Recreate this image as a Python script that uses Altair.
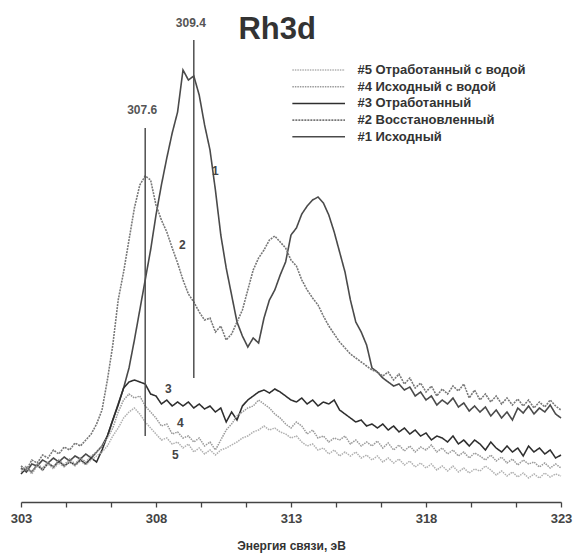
import altair as alt
import pandas as pd

# Binding energy grid, eV (0.2 eV step)
energy = [round(303 + 0.2 * i, 1) for i in range(101)]

# Rh3d spectra, intensity in arbitrary units
s1 = [34, 30, 38, 36, 42, 39, 44, 40, 45, 41, 46, 43, 48, 44, 50,
      56, 66, 82, 98, 114, 134, 162, 192, 222, 252, 287, 317, 344, 369, 390,
      432, 422, 426, 407, 377, 352, 312, 267, 234, 207, 180, 166, 155, 164, 159,
      184, 202, 212, 227, 240, 267, 274, 288, 296, 302, 305, 299, 287, 270, 250,
      230, 202, 180, 170, 157, 134, 130, 124, 120, 116, 118, 112, 115, 106, 110,
      102, 106, 97, 102, 98, 104, 95, 99, 91, 96, 90, 95, 86, 92, 84,
      90, 82, 94, 89, 96, 88, 94, 90, 97, 88, 84]
s2 = [36, 32, 42, 39, 47, 44, 52, 48, 55, 52, 59, 56, 62, 68, 78,
      92, 122, 157, 202, 230, 262, 294, 317, 326, 322, 297, 282, 270, 254, 239,
      222, 208, 200, 190, 182, 184, 170, 176, 162, 168, 180, 192, 212, 232, 244,
      252, 262, 266, 260, 254, 242, 236, 222, 212, 204, 197, 186, 176, 168, 160,
      154, 148, 144, 140, 136, 132, 130, 126, 130, 122, 128, 118, 124, 114, 119,
      110, 116, 106, 113, 108, 116, 111, 118, 104, 112, 102, 108, 100, 106, 98,
      104, 97, 103, 96, 102, 94, 100, 95, 102, 96, 92]
s3 = [28, 34, 30, 37, 32, 39, 35, 41, 36, 40, 37, 42, 38, 44, 40,
      52, 66, 82, 97, 114, 120, 122, 120, 118, 108, 106, 98, 102, 96, 100,
      96, 100, 94, 98, 93, 96, 90, 94, 80, 90, 82, 96, 102, 106, 110,
      112, 109, 113, 110, 106, 102, 100, 104, 98, 102, 96, 100, 98, 102, 92,
      88, 84, 80, 82, 76, 78, 74, 78, 72, 76, 70, 74, 68, 72, 66,
      69, 62, 66, 64, 60, 66, 58, 62, 56, 62, 58, 52, 60, 54, 50,
      56, 50, 54, 46, 56, 50, 54, 48, 52, 44, 47]
s4 = [32, 36, 30, 38, 34, 40, 35, 42, 37, 43, 38, 44, 40, 46, 50,
      56, 64, 74, 90, 102, 108, 104, 106, 96, 90, 84, 76, 78, 68, 70,
      64, 66, 60, 64, 56, 60, 52, 62, 72, 78, 86, 90, 94, 96, 102,
      98, 94, 88, 84, 78, 74, 80, 76, 68, 72, 64, 66, 60, 64, 62,
      66, 58, 62, 56, 60, 56, 61, 54, 59, 52, 57, 51, 56, 50, 55,
      52, 57, 50, 54, 48, 52, 46, 50, 44, 49, 46, 42, 47, 41, 45,
      39, 43, 37, 42, 38, 40, 35, 39, 34, 38, 34]
s5 = [30, 34, 28, 36, 32, 38, 33, 39, 35, 40, 36, 41, 37, 42, 46,
      50, 56, 66, 74, 84, 90, 94, 88, 80, 74, 68, 62, 64, 58, 60,
      54, 58, 50, 54, 48, 52, 47, 52, 54, 57, 60, 64, 66, 70, 72,
      76, 72, 74, 70, 68, 64, 66, 60, 56, 58, 52, 54, 48, 52, 46,
      50, 46, 50, 44, 47, 42, 46, 40, 44, 39, 43, 37, 41, 35, 39,
      34, 38, 32, 36, 31, 36, 30, 34, 29, 33, 31, 36, 32, 27, 31,
      26, 30, 25, 29, 24, 28, 24, 29, 25, 28, 26]

names = ["#1 Исходный", "#2 Восстановленный", "#3 Отработанный",
         "#4 Исходный с водой", "#5 Отработанный с водой"]
curve_numbers = ["1", "2", "3", "4", "5"]

# Peak positions marked with vertical lines
peak_energies = [307.6, 309.4]

series = [s1, s2, s3, s4, s5]
records = []
for name, vals in zip(names, series):
    for e, v in zip(energy, vals):
        records.append({"E": e, "I": v, "series": name})
df = pd.DataFrame(records)

# Line styles per sample
line_colors = ["#4a4a4a", "#777777", "#2e2e2e", "#9a9a9a", "#b0b0b0"]
line_dashes = [[1, 0], [2, 1], [1, 0], [1.5, 1], [1.5, 1]]
line_widths = [1.6, 1.5, 2.6, 1.4, 1.4]

color_scale = alt.Scale(domain=names, range=line_colors)
dash_scale = alt.Scale(domain=names, range=line_dashes)
width_scale = alt.Scale(domain=names, range=line_widths)

FONT = "Liberation Sans"
x_ticks = [303 + 5 * k / 3 for k in range(13)]

x_enc = alt.X(
    "E:Q",
    scale=alt.Scale(domain=[303, 323], nice=False, zero=False),
    axis=alt.Axis(
        values=x_ticks,
        labelExpr="abs((datum.value - 303) / 5 - round((datum.value - 303) / 5)) < 0.01 ? format(datum.value, 'd') : ''",
        labelOverlap=False,
        labelFlush=False,
        title="Энергия связи, эВ",
        grid=False,
        domainColor="#444444",
        domainWidth=1.5,
        tickColor="#444444",
        tickWidth=1.3,
        tickSize=5,
        labelFont=FONT,
        labelFontSize=13,
        labelFontWeight="bold",
        labelColor="#444444",
        labelPadding=5,
        titleFont=FONT,
        titleFontSize=12,
        titleFontWeight="bold",
        titleColor="#333333",
        titlePadding=15,
    ),
)
y_scale = alt.Scale(domain=[0, 492], nice=False, zero=False)

curves = alt.Chart(df).mark_line(interpolate="linear").encode(
    x=x_enc,
    y=alt.Y("I:Q", scale=y_scale, axis=None),
    color=alt.Color("series:N", scale=color_scale, legend=None),
    strokeDash=alt.StrokeDash("series:N", scale=dash_scale, legend=None),
    strokeWidth=alt.StrokeWidth("series:N", scale=width_scale, legend=None),
    detail="series:N",
)

# Vertical peak markers
peaks_df = pd.DataFrame({"E": peak_energies, "lo": [66, 124], "hi": [374, 462],
                         "label": ["307.6", "309.4"], "ly": [392, 479]})
peak_rules = alt.Chart(peaks_df).mark_rule(color="#505050", strokeWidth=1.5).encode(
    x="E:Q", y=alt.Y("lo:Q", scale=y_scale), y2="hi:Q"
)
peak_labels = alt.Chart(peaks_df).mark_text(
    font=FONT, fontSize=12, fontWeight="bold", color="#555555", dx=-3
).encode(x="E:Q", y=alt.Y("ly:Q", scale=y_scale), text="label:N")

# Curve numbers next to the spectra
num_df = pd.DataFrame({"E": [310.2, 308.98, 308.46, 308.90, 308.72],
                       "I": [331, 257, 113, 79, 47], "label": curve_numbers})
numbers = alt.Chart(num_df).mark_text(
    font=FONT, fontSize=12, fontWeight="bold", color="#444444"
).encode(x="E:Q", y=alt.Y("I:Q", scale=y_scale), text="label:N")

# Heading
title = alt.Chart(pd.DataFrame({"t": ["Rh3d"]})).mark_text(
    font=FONT, fontSize=31, fontWeight="bold",
    color="#333333", baseline="middle"
).encode(x=alt.datum(312.49), y=alt.datum(472), text="t:N")

# Legend (top entry is sample #5)
leg_df = pd.DataFrame({"series": names[::-1], "ly": [432 - 16.7 * k for k in range(5)]})
leg_lines = alt.Chart(leg_df).mark_rule().encode(
    x=alt.datum(313.05), x2=alt.datum(315.0),
    y=alt.Y("ly:Q", scale=y_scale),
    color=alt.Color("series:N", scale=color_scale, legend=None),
    strokeDash=alt.StrokeDash("series:N", scale=dash_scale, legend=None),
    strokeWidth=alt.StrokeWidth("series:N", scale=width_scale, legend=None),
)
leg_text = alt.Chart(leg_df).mark_text(
    font=FONT, fontSize=13, fontWeight="bold", color="#333333", align="left", baseline="middle"
).encode(x=alt.datum(315.46), y=alt.Y("ly:Q", scale=y_scale), text="series:N")

chart = alt.layer(
    curves, peak_rules, peak_labels, numbers, title, leg_lines, leg_text
).properties(
    width=540,
    height=492,
    autosize="none",
    padding={"left": 21, "top": 10, "right": 12, "bottom": 58},
    background="white",
).configure_view(stroke=None)

chart.save("out.html", embed_options={"renderer": "svg", "actions": False})
